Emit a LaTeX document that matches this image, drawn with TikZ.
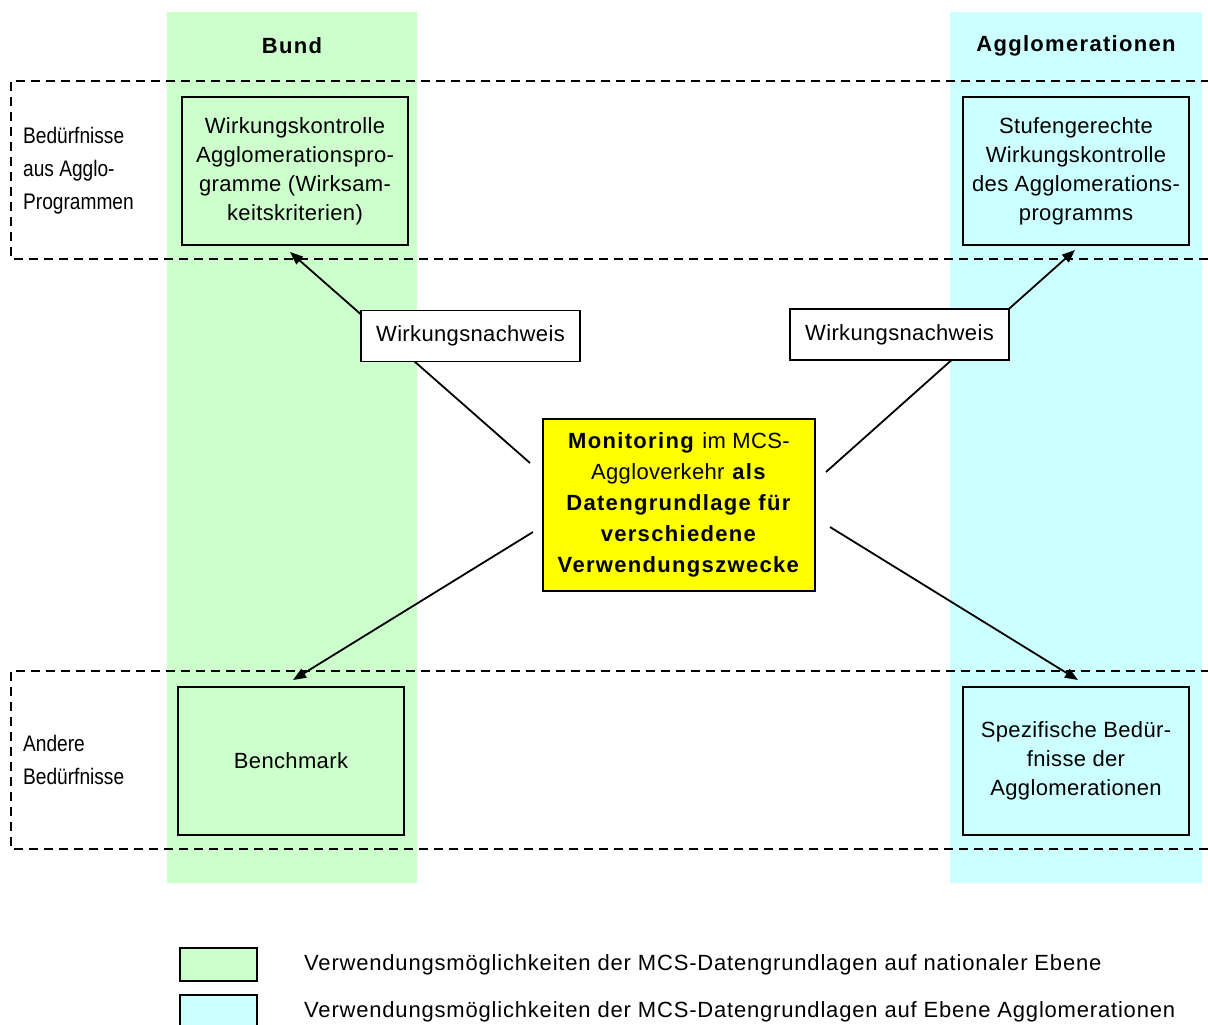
\documentclass[tikz,border=0pt]{standalone}
\usepackage{fontspec}
\setmainfont{Liberation Sans}
\newfontfamily\bodyfont[LetterSpace=1.6]{Liberation Sans}
\newfontfamily\legendfont[LetterSpace=3.7]{Liberation Sans}
\newfontfamily\widebold[LetterSpace=6]{Liberation Sans}
\newfontfamily\narrowfont[FakeStretch=0.85]{Liberation Sans}
\usetikzlibrary{arrows.meta}

\definecolor{bundcol}{HTML}{CCFFCC}
\definecolor{aggcol}{HTML}{CCFFFF}
\definecolor{moncol}{HTML}{FFFF00}

\begin{document}
\begin{tikzpicture}[x=1pt,y=-1pt,
  bodytext/.style={font=\bodyfont\fontsize{22}{29}\selectfont, align=center},
  panel/.style={draw=black, line width=1.6pt, inner sep=0pt, bodytext},
  labelbox/.style={draw=black, fill=white, line width=1.6pt, inner sep=0pt,
    minimum width=219, minimum height=51, bodytext},
  heading/.style={font=\widebold\bfseries\fontsize{22}{25}\selectfont},
  sidelabel/.style={font=\narrowfont\fontsize{22.5}{33}\selectfont, align=left,
    anchor=west, inner sep=0pt},
  dashline/.style={line width=1.4pt, dash pattern=on 9pt off 6pt},
  arrowlink/.style={line width=1.8pt, -{Triangle[length=13pt,width=10pt]}},
  legbox/.style={draw=black, line width=1.4pt, minimum width=77, minimum height=33,
    inner sep=0pt},
  legtext/.style={font=\legendfont\fontsize{22}{25}\selectfont, anchor=west, inner sep=0pt}
]
\useasboundingbox (0,0) rectangle (1208,1025);

% columns for the two levels
\fill[bundcol] (167,12) rectangle (417,883);
\fill[aggcol] (950,12) rectangle (1202,883);

% dashed bands for the two kinds of needs
\draw[dashline] (1210,81) -- (11,81) -- (11,259) -- (1210,259);
\draw[dashline] (1210,671) -- (11,671) -- (11,849) -- (1210,849);

% column headings
\node[heading] (bund) at (292,46) {Bund};
\node[heading] (agglo) at (1076,46) {Agglomerationen};

% band labels
\node[sidelabel] (needsA) at (23,171) {Bedürfnisse\\aus Agglo-\\Programmen};
\node[sidelabel] (needsB) at (23,760) {Andere\\Bedürfnisse};

% connectors (drawn below the boxes)
\coordinate (ulS) at (530,463);
\coordinate (ulE) at (290,252);
\coordinate (urS) at (826,472);
\coordinate (urE) at (1075,250);
\coordinate (llS) at (533,532);
\coordinate (llE) at (293,680);
\coordinate (lrS) at (830,527);
\coordinate (lrE) at (1078,680);
\draw[arrowlink] (ulS) -- (ulE);
\draw[arrowlink] (urS) -- (urE);
\draw[arrowlink] (llS) -- (llE);
\draw[arrowlink] (lrS) -- (lrE);

% boxes of uses
\node[panel, fill=bundcol, minimum width=226, minimum height=148] (wk) at (295,171)
  {Wirkungskontrolle\\Agglomerationspro-\\gramme (Wirksam-\\keitskriterien)};
\node[panel, fill=aggcol, minimum width=226, minimum height=148] (sw) at (1076,171)
  {Stufengerechte\\Wirkungskontrolle\\des Agglomerations-\\programms};
\node[panel, fill=bundcol, minimum width=226, minimum height=148] (bm) at (291,761)
  {Benchmark};
\node[panel, fill=aggcol, minimum width=226, minimum height=148] (sb) at (1076,761)
  {Spezifische Bedür-\\fnisse der\\Agglomerationen};

% labels on the upper connectors
\node[labelbox] (wnL) at (470.5,336) {Wirkungsnachweis};
\node[labelbox] (wnR) at (899.5,334.5) {Wirkungsnachweis};

% central box
\node[draw=black, line width=1.6pt, fill=moncol, minimum width=272, minimum height=172,
  inner sep=0pt, align=center, font=\widebold\fontsize{22}{31}\selectfont] (mon) at (679,505)
  {\textbf{Monitoring} {\bodyfont im MCS-}\\{\bodyfont Aggloverkehr} \textbf{als}\\
   \textbf{Datengrundlage für}\\\textbf{verschiedene}\\\textbf{Verwendungszwecke}};

% legend
\node[legbox, fill=bundcol] (lgA) at (218.5,964.5) {};
\node[legbox, fill=aggcol] (lgB) at (218.5,1011.5) {};
\node[legtext] (lgAt) at (304,965) {Verwendungsmöglichkeiten der MCS-Datengrundlagen auf nationaler Ebene};
\node[legtext] (lgBt) at (304,1012) {Verwendungsmöglichkeiten der MCS-Datengrundlagen auf Ebene Agglomerationen};
\end{tikzpicture}
\end{document}
